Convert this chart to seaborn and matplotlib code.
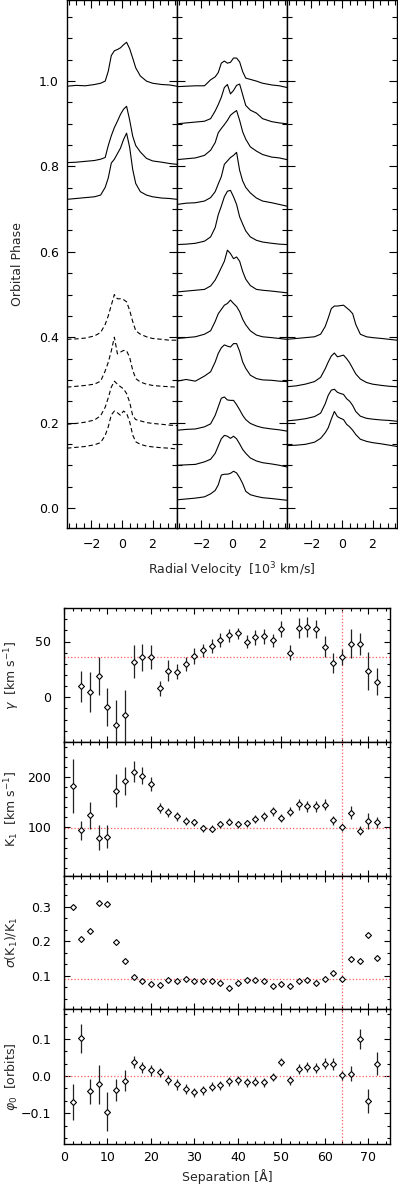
import numpy as np
import matplotlib
matplotlib.use('Agg')
import matplotlib.pyplot as plt
import seaborn as sns
from matplotlib.ticker import MultipleLocator

# ---- trailed spectra (velocity in 10^3 km/s, heights in phase units) ----
vel = [-3.6, -3.0, -2.4, -1.8, -1.4, -1.1, -0.9, -0.7, -0.5, -0.3, -0.1,
       0.1, 0.3, 0.5, 0.7, 0.9, 1.2, 1.6, 2.0, 2.6, 3.1, 3.6]

left_phase = [0.988, 0.809, 0.723, 0.395, 0.283, 0.196, 0.140]
left_dashed = [False, False, False, True, True, True, True]
left_prof = [
    [0.000, 0.002, 0.001, 0.004, 0.007, 0.012, 0.035, 0.072, 0.083, 0.086, 0.090,
     0.097, 0.103, 0.088, 0.066, 0.043, 0.024, 0.012, 0.007, 0.004, 0.003, 0.000],
    [0.000, 0.001, 0.003, 0.005, 0.008, 0.012, 0.040, 0.063, 0.082, 0.097, 0.113,
     0.125, 0.132, 0.100, 0.062, 0.040, 0.025, 0.010, 0.004, 0.001, -0.002, -0.004],
    [0.000, 0.002, 0.004, 0.006, 0.010, 0.028, 0.050, 0.085, 0.094, 0.107, 0.120,
     0.140, 0.155, 0.122, 0.070, 0.037, 0.018, 0.010, 0.006, 0.003, 0.002, 0.000],
    [0.000, 0.001, 0.003, 0.008, 0.016, 0.035, 0.055, 0.080, 0.105, 0.095, 0.095,
     0.093, 0.088, 0.068, 0.042, 0.020, 0.012, 0.006, 0.002, 0.000, -0.002, -0.002],
    [0.000, 0.002, 0.004, 0.007, 0.014, 0.038, 0.058, 0.085, 0.117, 0.078, 0.082,
     0.086, 0.085, 0.070, 0.040, 0.020, 0.012, 0.007, 0.004, 0.002, 0.001, 0.000],
    [0.000, 0.002, 0.005, 0.010, 0.020, 0.040, 0.062, 0.087, 0.101, 0.094, 0.088,
     0.083, 0.072, 0.052, 0.020, 0.011, 0.008, 0.004, 0.002, 0.000, -0.002, -0.003],
    [0.000, 0.002, 0.004, 0.008, 0.013, 0.030, 0.050, 0.078, 0.087, 0.083, 0.077,
     0.087, 0.082, 0.062, 0.031, 0.015, 0.009, 0.005, 0.003, 0.001, 0.000, -0.002],
]

mid_phase = [0.987, 0.900, 0.816, 0.711, 0.617, 0.506, 0.397, 0.297, 0.182, 0.100, 0.019]
mid_prof = [
    [0.000, 0.001, 0.002, 0.002, 0.016, 0.023, 0.033, 0.055, 0.060, 0.055, 0.057,
     0.067, 0.067, 0.058, 0.035, 0.020, 0.017, 0.013, 0.008, 0.004, 0.002, -0.002],
    [0.000, 0.002, 0.004, 0.006, 0.012, 0.030, 0.045, 0.062, 0.085, 0.092, 0.070,
     0.078, 0.090, 0.093, 0.068, 0.043, 0.032, 0.025, 0.012, 0.005, 0.002, 0.000],
    [0.000, 0.002, 0.004, 0.010, 0.022, 0.040, 0.063, 0.073, 0.082, 0.092, 0.104,
     0.110, 0.115, 0.092, 0.065, 0.048, 0.030, 0.020, 0.012, 0.006, 0.004, 0.000],
    [0.000, 0.003, 0.004, 0.008, 0.016, 0.030, 0.048, 0.065, 0.094, 0.102, 0.110,
     0.115, 0.122, 0.080, 0.055, 0.040, 0.027, 0.015, 0.008, 0.004, 0.000, -0.004],
    [0.000, 0.001, 0.003, 0.008, 0.018, 0.040, 0.070, 0.090, 0.112, 0.125, 0.127,
     0.112, 0.094, 0.065, 0.048, 0.032, 0.018, 0.010, 0.006, 0.003, 0.001, 0.000],
    [0.000, 0.002, 0.004, 0.006, 0.014, 0.028, 0.042, 0.057, 0.072, 0.098, 0.090,
     0.078, 0.082, 0.072, 0.048, 0.030, 0.015, 0.006, 0.004, 0.002, 0.000, -0.002],
    [0.000, 0.002, 0.004, 0.010, 0.018, 0.040, 0.058, 0.068, 0.078, 0.082, 0.090,
     0.082, 0.075, 0.063, 0.045, 0.032, 0.018, 0.008, 0.004, 0.002, 0.000, -0.002],
    [0.000, 0.004, 0.000, 0.012, 0.022, 0.045, 0.065, 0.078, 0.085, 0.082, 0.080,
     0.088, 0.088, 0.070, 0.045, 0.030, 0.014, 0.006, 0.003, 0.002, 0.000, -0.001],
    [0.000, 0.002, 0.003, 0.008, 0.015, 0.035, 0.055, 0.075, 0.078, 0.071, 0.070,
     0.070, 0.060, 0.048, 0.035, 0.025, 0.016, 0.010, 0.006, 0.003, 0.001, -0.002],
    [0.000, 0.001, 0.002, 0.008, 0.014, 0.028, 0.045, 0.062, 0.070, 0.068, 0.063,
     0.068, 0.062, 0.050, 0.037, 0.028, 0.017, 0.010, 0.006, 0.003, 0.000, -0.004],
    [0.000, 0.002, 0.004, 0.007, 0.014, 0.022, 0.035, 0.058, 0.060, 0.060, 0.062,
     0.067, 0.063, 0.052, 0.038, 0.020, 0.012, 0.008, 0.005, 0.003, 0.001, -0.001],
]

right_phase = [0.395, 0.284, 0.204, 0.146]
right_prof = [
    [0.000, 0.002, 0.004, 0.006, 0.012, 0.030, 0.050, 0.072, 0.078, 0.078, 0.079,
     0.080, 0.074, 0.068, 0.060, 0.035, 0.012, 0.006, 0.004, 0.002, 0.000, -0.002],
    [0.000, 0.002, 0.006, 0.012, 0.022, 0.042, 0.058, 0.072, 0.079, 0.070, 0.072,
     0.074, 0.066, 0.056, 0.043, 0.030, 0.018, 0.010, 0.006, 0.003, 0.001, 0.000],
    [0.000, 0.002, 0.005, 0.010, 0.018, 0.040, 0.060, 0.072, 0.074, 0.067, 0.064,
     0.062, 0.052, 0.046, 0.036, 0.022, 0.011, 0.006, 0.004, 0.002, 0.001, -0.001],
    [0.000, 0.001, 0.003, 0.008, 0.017, 0.030, 0.042, 0.062, 0.080, 0.068, 0.064,
     0.061, 0.050, 0.044, 0.036, 0.026, 0.015, 0.010, 0.007, 0.004, 0.001, -0.002],
]

# ---- fit parameters vs separation ----
sep = [2, 4, 6, 8, 10, 12, 14, 16, 18, 20, 22, 24, 26, 28, 30, 32, 34, 36,
       38, 40, 42, 44, 46, 48, 50, 52, 54, 56, 58, 60, 62, 64, 66, 68, 70, 72]

gamma = [np.nan, 10, 5, 19, -9, -25, -16, 32, 36, 36, 8, 24, 23, 30, 37, 42, 46, 51.5,
         55.5, 57.5, 50, 53.6, 54.5, 51, 61, 40, 62, 63, 61.5, 45.5, 31, 36, 48, 47.5, 24, 14]
gamma_err = [np.nan, 14, 18, 17, 17, 23, 23, 15, 12, 11, 7, 9, 7, 6, 7, 6, 6, 6,
             6, 5, 6, 7, 7, 6, 7, 7, 9, 9, 8, 9, 9, 7, 13, 10, 17, 12]

k1 = [181.7, 94.7, 123.7, 80, 81.5, 172.5, 191.6, 210, 202, 185.6, 139, 129.6, 121.7,
      113, 110.5, 98, 97.4, 106, 111, 106.6, 108.6, 117, 121.7, 132, 118.4, 131, 146,
      142, 142, 144.8, 114.5, 100.6, 129, 93.4, 113, 110]
k1_err = [53, 19, 27, 24, 23, 33, 27, 21, 17, 14, 10, 9, 8, 8, 7, 7, 7, 7,
          7, 7, 7, 8, 8, 9, 8, 9, 11, 11, 11, 11, 9, 7, 13, 9, 16, 11]

sig_k1 = [0.300, 0.208, 0.231, 0.312, 0.308, 0.199, 0.1425, 0.097, 0.0855, 0.076,
          0.073, 0.0875, 0.0845, 0.091, 0.0845, 0.0845, 0.0855, 0.078, 0.065, 0.078,
          0.0865, 0.0875, 0.0845, 0.070, 0.077, 0.070, 0.0845, 0.0875, 0.079, 0.092,
          0.108, 0.092, 0.150, 0.144, 0.218, 0.151]

phi0 = [-0.069, 0.102, -0.0405, -0.0225, -0.096, -0.038, -0.0126, 0.037, 0.0234,
        0.0153, 0.0099, -0.011, -0.0225, -0.034, -0.043, -0.038, -0.029, -0.025,
        -0.0144, -0.0117, -0.017, -0.0153, -0.017, -0.002, 0.038, -0.011, 0.019,
        0.025, 0.0216, 0.034, 0.033, 0.002, 0.007, 0.099, -0.0676, 0.034]
phi0_err = [0.048, 0.039, 0.034, 0.053, 0.053, 0.030, 0.028, 0.016, 0.015, 0.014,
            0.012, 0.013, 0.016, 0.013, 0.012, 0.012, 0.012, 0.012, 0.011, 0.011,
            0.012, 0.012, 0.013, 0.010, 0.012, 0.012, 0.013, 0.013, 0.014, 0.014,
            0.017, 0.012, 0.020, 0.027, 0.032, 0.030]

best_sep = 64
ref_levels = [36, 99, 0.092, 0.0]

sns.set_style('ticks')
plt.rcParams['font.family'] = ['DejaVu Sans']
plt.rcParams['mathtext.fontset'] = 'dejavusans'
plt.rcParams['font.size'] = 9

W, H = 398, 1185
fig = plt.figure(figsize=(W / 100, H / 100), dpi=100)


def px_axes(x0, y0, x1, y1):
    return fig.add_axes([x0 / W, 1 - y1 / H, (x1 - x0) / W, (y1 - y0) / H])


def style(ax, major, minor, pad):
    for s in ax.spines.values():
        s.set_linewidth(1.0)
        s.set_color('k')
    ax.tick_params(which='both', direction='in', top=True, right=True,
                   width=0.8, colors='k', labelsize=9)
    ax.tick_params(which='major', length=major, pad=pad)
    ax.tick_params(which='minor', length=minor)


# top: trailed spectra
edges = [67, 177, 287, 397]
spec_sets = [(left_phase, left_prof, left_dashed),
             (mid_phase, mid_prof, [False] * len(mid_phase)),
             (right_phase, right_prof, [False] * len(right_phase))]
for i, (phases, profs, dashed) in enumerate(spec_sets):
    ax = px_axes(edges[i], 0, edges[i + 1], 528)
    for ph, prof, dsh in zip(phases, profs, dashed):
        sns.lineplot(x=vel, y=np.array(prof) + ph, ax=ax, color='k', lw=0.8,
                     sort=False, estimator=None)
        if dsh:
            ax.lines[-1].set_dashes([4, 2.5])
    ax.set_xlim(-3.6, 3.6)
    ax.set_ylim(-0.047, 1.19)
    ax.xaxis.set_major_locator(MultipleLocator(2))
    ax.xaxis.set_minor_locator(MultipleLocator(0.5))
    ax.yaxis.set_major_locator(MultipleLocator(0.2))
    ax.yaxis.set_minor_locator(MultipleLocator(0.05))
    style(ax, 6, 3.8, 6)
    ax.tick_params(axis='x', pad=7)
    if i > 0:
        ax.set_yticklabels([])
    ax.set_xlabel('')
    ax.set_ylabel('')

fig.text(18 / W, 1 - 264 / H, 'Orbital Phase', rotation=90, ha='center', va='center', fontsize=9)
fig.text(232 / W, 1 - 570 / H, r'Radial Velocity  [10$^3$ km/s]', ha='center', va='center',
         fontsize=9)

# bottom: fit parameters
panels = [
    (gamma, gamma_err, (-40, 80), 50, 10, r'$\gamma$  [km s$^{-1}$]'),
    (k1, k1_err, (4, 269), 100, 20, r'K$_1$  [km s$^{-1}$]'),
    (sig_k1, None, (0.004, 0.389), 0.1, 0.1 / 3, r'$\sigma$(K$_1$)/K$_1$'),
    (phi0, phi0_err, (-0.183, 0.181), 0.1, 0.1 / 3, r'$\varphi_0$  [orbits]'),
]
tops = [608, 742, 876, 1009, 1144]
red = '#ff5a5a'
for j, (vals, errs, ylim, maj, mnr, lab) in enumerate(panels):
    ax = px_axes(64, tops[j], 390, tops[j + 1])
    ax.axhline(ref_levels[j], color=red, ls=':', lw=0.9, zorder=1)
    ax.axvline(best_sep, color=red, ls=':', lw=0.9, zorder=1)
    if errs is not None:
        ax.errorbar(sep, vals, yerr=errs, fmt='none', ecolor='#222222',
                    elinewidth=0.9, capsize=0, zorder=2)
    sns.scatterplot(x=sep, y=vals, ax=ax, marker='D', s=9, facecolor='white',
                    edgecolor='k', linewidth=0.8, zorder=3)
    ax.set_xlim(0, 75)
    ax.set_ylim(*ylim)
    ax.xaxis.set_major_locator(MultipleLocator(10))
    ax.xaxis.set_minor_locator(MultipleLocator(2))
    ax.yaxis.set_major_locator(MultipleLocator(maj))
    ax.yaxis.set_minor_locator(MultipleLocator(mnr))
    style(ax, 4.5, 2.5, 9)
    ax.tick_params(axis='x', pad=5)
    if j < 3:
        ax.set_xticklabels([])
    ax.set_xlabel('')
    ax.set_ylabel('')
    fig.text(12 / W, 1 - (tops[j] + tops[j + 1]) / 2 / H, lab, rotation=90,
             ha='center', va='center', fontsize=9)

fig.text(227 / W, 1 - 1177 / H, 'Separation [Å]', ha='center', va='center', fontsize=9)

fig.savefig('out.png', dpi=100)
